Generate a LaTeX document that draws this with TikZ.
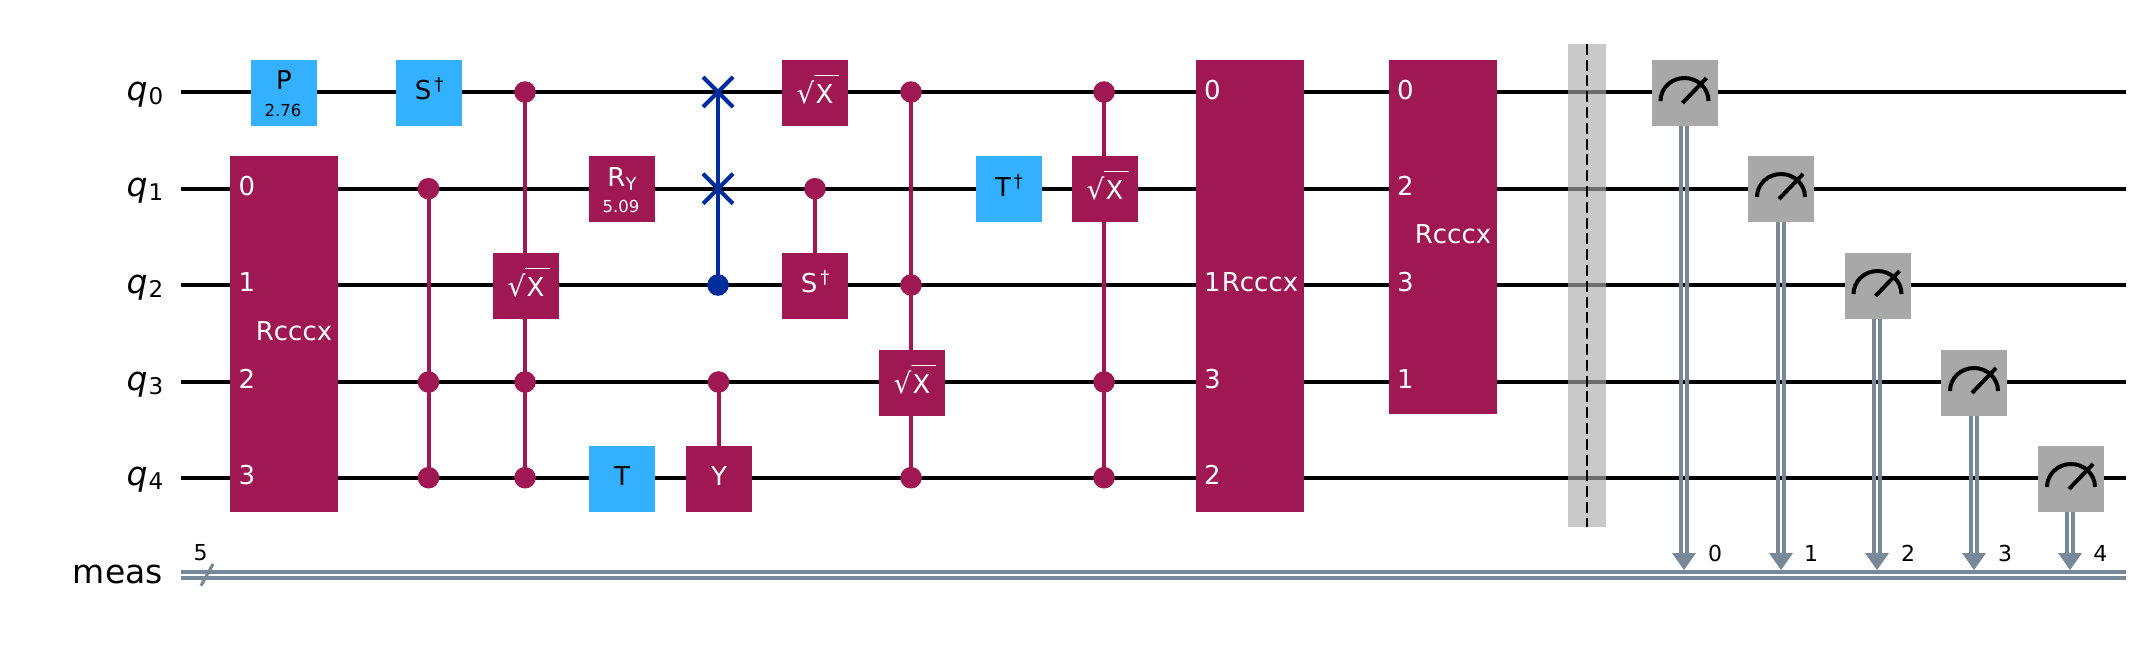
\documentclass[tikz,border=0pt]{standalone}
\usepackage{fontspec}
\setmainfont{DejaVu Sans}
\usetikzlibrary{shapes.misc}
\pgfdeclarelayer{paper}
\pgfdeclarelayer{wires}
\pgfdeclarelayer{links}
\pgfsetlayers{paper,wires,links,main}
\definecolor{gmag}{HTML}{9F1853}
\definecolor{gblue}{HTML}{33B1FF}
\definecolor{swapblue}{HTML}{002D9C}
\definecolor{mgray}{HTML}{A8A8A8}
\definecolor{cbit}{HTML}{778899}
\definecolor{bargray}{HTML}{ABABAB}
\newcommand\fsz[1]{\fontsize{#1}{#1}\selectfont}
\newcommand\sqX{\raisebox{0pt}{\fsz{28}√}\kern-0.5pt\rlap{\raisebox{27pt}{\rule{25pt}{1.1pt}}}\kern1.5pt X}
\newcommand\dg{\kern3pt\raisebox{9pt}{\fsz{18}†}}
\tikzset{
  x=1pt,y=-1pt,
  qwire/.style={draw=black,line width=4pt},
  cwire/.style={draw=cbit,line width=4pt},
  ctrl/.style={draw=gmag,line width=4pt},
  swapline/.style={draw=swapblue,line width=4pt},
  boxg/.style={rectangle,draw=none,inner sep=0pt,minimum width=66pt,minimum height=66pt},
  magbox/.style={boxg,fill=gmag},
  bluebox/.style={boxg,fill=gblue},
  graybox/.style={boxg,fill=mgray},
  cdot/.style={circle,fill=gmag,draw=none,inner sep=0pt,minimum size=21.6pt},
  sdot/.style={circle,fill=swapblue,draw=none,inner sep=0pt,minimum size=21.6pt},
  swapx/.style={cross out,draw=swapblue,line width=4pt,inner sep=0pt,minimum size=26pt},
  txt/.style={inner sep=0pt,anchor=base,font=\fsz{26}},
  wt/.style={txt,text=white},
  bt/.style={txt,text=black},
  wsub/.style={inner sep=0pt,anchor=base,font=\fsz{16.5},text=white},
  bsub/.style={inner sep=0pt,anchor=base,font=\fsz{16.5},text=black},
  port/.style={inner sep=0pt,anchor=base west,font=\fsz{26},text=white},
  reg/.style={inner sep=0pt,anchor=base east,font=\fsz{33},text=black},
  idx/.style={inner sep=0pt,anchor=base,font=\fsz{22},text=black},
  meterline/.style={draw=black,line width=4pt},
}
\begin{document}
\begin{tikzpicture}
\useasboundingbox (0,0) rectangle (2148,648);
\begin{pgfonlayer}{paper}
\fill[white] (0,0) rectangle (2148,648);
\end{pgfonlayer}
% wire ends
\foreach \i/\yy in {0/92,1/188.7,2/285,3/382,4/477.7}{
  \coordinate (ws\i) at (181,\yy);
  \coordinate (we\i) at (2126,\yy);
}
\coordinate (cs) at (181,575);
\coordinate (ce) at (2126,575);
% register labels
\node[reg] (lq0) at (163.5,100) {\itshape q\kern1pt\raisebox{-4pt}{\upshape\fsz{23}0}};
\node[reg] (lq1) at (163.5,196.7) {\itshape q\kern1pt\raisebox{-4pt}{\upshape\fsz{23}1}};
\node[reg] (lq2) at (163.5,293) {\itshape q\kern1pt\raisebox{-4pt}{\upshape\fsz{23}2}};
\node[reg] (lq3) at (163.5,390) {\itshape q\kern1pt\raisebox{-4pt}{\upshape\fsz{23}3}};
\node[reg] (lq4) at (163.5,485.7) {\itshape q\kern1pt\raisebox{-4pt}{\upshape\fsz{23}4}};
\node[reg] (lmeas) at (163,583) {meas};
\node[idx] (lfive) at (200.6,560.7) {5};
\coordinate (sla) at (201,585.7);
\coordinate (slb) at (213,564);
% gates
\node[bluebox] (p) at (284,93) {};
\node[bt] (pt) at (284,89.5) {P};
\node[bsub] (pv) at (283,116) {2.76};
\node[magbox,minimum width=108pt,minimum height=356pt] (r1) at (284,334) {};
\node[port] (r1a) at (238.5,195.7) {0};
\node[port] (r1b) at (238.5,291.7) {1};
\node[port] (r1c) at (238.5,388.7) {2};
\node[port] (r1d) at (238.5,484.7) {3};
\node[wt] (r1t) at (294,340.7) {Rcccx};
\node[bluebox] (sd) at (429,93) {};
\node[bt] (sdt) at (429,99.5) {S\dg};
\node[magbox] (sx1) at (525.5,286) {};
\node[wt] (sx1t) at (526,296) {\sqX};
\node[magbox] (ry) at (622,189) {};
\node[wt] (ryt) at (622,186.7) {R\raisebox{-4pt}{\fsz{18}Y}};
\node[wsub] (ryv) at (621,212.7) {5.09};
\node[bluebox] (t) at (622,479) {};
\node[bt] (tt) at (622,485.7) {T};
\node[magbox] (y) at (719,479) {};
\node[wt] (yt) at (719,485.7) {Y};
\node[magbox] (sx2) at (815,93) {};
\node[wt] (sx2t) at (815,103) {\sqX};
\node[magbox] (sd2) at (815,286) {};
\node[wt] (sd2t) at (815,292.5) {S\dg};
\node[magbox] (sx3) at (912,383) {};
\node[wt] (sx3t) at (912,393) {\sqX};
\node[bluebox] (td) at (1009,189) {};
\node[bt] (tdt) at (1009,196) {T\dg};
\node[magbox] (sx4) at (1105,189) {};
\node[wt] (sx4t) at (1105,199) {\sqX};
\node[magbox,minimum width=108pt,minimum height=452pt] (r2) at (1250,286) {};
\node[port] (r2a) at (1204,99) {0};
\node[port] (r2b) at (1204,291.7) {1};
\node[port] (r2c) at (1204,388.7) {3};
\node[port] (r2d) at (1204,484.7) {2};
\node[wt] (r2t) at (1260,291.7) {Rcccx};
\node[magbox,minimum width=108pt,minimum height=354pt] (r3) at (1443,237) {};
\node[port] (r3a) at (1397,99) {0};
\node[port] (r3b) at (1397,195.7) {2};
\node[port] (r3c) at (1397,291.7) {3};
\node[port] (r3d) at (1397,388.7) {1};
\node[wt] (r3t) at (1453,243.3) {Rcccx};
% control dots
\node[cdot] (a1) at (428.5,188.7) {};
\node[cdot] (a3) at (428.5,382) {};
\node[cdot] (a4) at (428.5,477.7) {};
\node[cdot] (b0) at (525,92) {};
\node[cdot] (b3) at (525,382) {};
\node[cdot] (b4) at (525,477.7) {};
\node[swapx] (s0) at (718,92) {};
\node[swapx] (s1) at (718,188.7) {};
\node[sdot] (s2) at (718,285) {};
\node[cdot] (y3) at (718.5,382) {};
\node[cdot] (d1) at (815,188.7) {};
\node[cdot] (e0) at (911,92) {};
\node[cdot] (e2) at (911,285) {};
\node[cdot] (e4) at (911,477.7) {};
\node[cdot] (f0) at (1104,92) {};
\node[cdot] (f3) at (1104,382) {};
\node[cdot] (f4) at (1104,477.7) {};
% barrier
\node[rectangle,draw=none,inner sep=0pt,minimum width=38pt,minimum height=483pt,fill=bargray,fill opacity=0.64] (bar) at (1587,285.5) {};
\draw[black,line width=2pt,dash pattern=on 11pt off 4.8pt] (bar.north) -- (bar.south);
% measurements
\foreach \n/\mx/\my/\px/\lx in {0/1684.5/93/1684/1715,1/1781/189/1781/1811,2/1877.5/286/1877/1908,3/1974/383/1974/2005,4/2071/479/2070/2100.4}{
  \node[graybox] (m\n) at (\mx,\my) {};
  \draw[meterline] ([shift={(-24pt,-8pt)}]m\n.center) arc[start angle=180,end angle=0,x radius=24pt,y radius=23pt];
  \draw[meterline] ([shift={(-2pt,-10pt)}]m\n.center) -- ([shift={(22pt,15pt)}]m\n.center);
  \coordinate (c\n) at (\px,570);
  \node[idx] (cl\n) at (\lx,561) {\n};
  \fill[cbit] (c\n) -- ([shift={(-12pt,17pt)}]c\n) -- ([shift={(12pt,17pt)}]c\n) -- cycle;
  \draw[cwire] ([xshift=-3.1pt]c\n |- m\n.south) -- ([shift={(-3.1pt,16pt)}]c\n);
  \draw[cwire] ([xshift=3.1pt]c\n |- m\n.south) -- ([shift={(3.1pt,16pt)}]c\n);
}
\begin{pgfonlayer}{wires}
\foreach \i in {0,...,4}{\draw[qwire] (ws\i) -- (we\i);}
\draw[cwire] ([yshift=3pt]cs) -- ([yshift=3pt]ce);
\draw[cwire] ([yshift=-3pt]cs) -- ([yshift=-3pt]ce);
\draw[cbit,line width=3pt] (sla) -- (slb);
\end{pgfonlayer}
\begin{pgfonlayer}{links}
\draw[ctrl] (a1.center) -- (a4.center);
\draw[ctrl] (b0.center) -- (b4.center);
\draw[swapline] (s0.center) -- (s2.center);
\draw[ctrl] (y3.center) -- (y3 |- y.north);
\draw[ctrl] (d1.center) -- (d1 |- sd2.north);
\draw[ctrl] (e0.center) -- (e4.center);
\draw[ctrl] (f0.center) -- (f4.center);
\end{pgfonlayer}
\end{tikzpicture}
\end{document}
